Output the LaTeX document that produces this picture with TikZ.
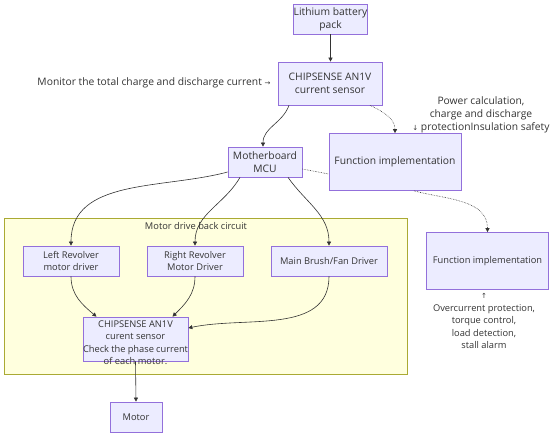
\documentclass[tikz,border=0pt]{standalone}
\usepackage{fontspec}
\setmainfont{Open Sans}
\newfontfamily\arrowfont{DejaVu Sans}
\usetikzlibrary{arrows.meta}
\definecolor{boxfill}{HTML}{ECECFF}
\definecolor{boxline}{HTML}{9370DB}
\definecolor{grpfill}{HTML}{FFFFDE}
\definecolor{grpline}{HTML}{AAAA33}
\definecolor{inkcol}{HTML}{333333}
\begin{document}
\begin{tikzpicture}[x=1pt,y=-1pt,
        font=\fontsize{9.3}{12.5}\selectfont,text=inkcol,
        big/.style={font=\fontsize{10.3}{13}\selectfont},
        blk/.style={draw=boxline,fill=boxfill,line width=0.7pt,align=center,inner sep=0pt},
        link/.style={draw=inkcol,line width=0.6pt,-{Triangle[length=4pt,width=4pt]}},
        dotlink/.style={link,densely dotted}]
                \useasboundingbox (0,0) rectangle (554,437);
                \draw[grpline,fill=grpfill,line width=0.7pt] (4,218) rectangle (407,374);
                \node (grp) at (196,226) {Motor drive back circuit};
                \node[blk,big,minimum width=69pt,minimum height=30pt] (bat) at (330.5,19) {Lithium battery\\pack};
                \node[blk,big,minimum width=104pt,minimum height=43pt] (sens1) at (330,83.5) {CHIPSENSE AN1V\\current sensor};
                \node[blk,big,minimum width=74pt,minimum height=30pt] (mcu) at (265,162) {Motherboard\\MCU};
                \node[blk,big,minimum width=132pt,minimum height=57pt] (fun1) at (395,162) {Function implementation};
                \node[blk,minimum width=122pt,minimum height=57pt] (fun2) at (487.5,261) {Function implementation};
                \node[blk,minimum width=96pt,minimum height=30pt] (left) at (71,261) {Left Revolver\\motor driver};
                \node[blk,minimum width=96pt,minimum height=30pt] (right) at (195,261) {Right Revolver\\Motor Driver};
                \node[blk,minimum width=116pt,minimum height=30pt] (main) at (329,261) {Main Brush/Fan Driver};
                \node[blk,inner ysep=3.5pt] (sens2) at (135.5,339) {\parbox[c][37pt][t]{105pt}{\centering CHIPSENSE AN1V\\curent sensor\\Check the phase current\\of each motor.}};
                \node[blk,minimum width=52pt,minimum height=30pt] (motor) at (136,417) {Motor};
                \node[big,anchor=east] (mon) at (274,83) {Monitor the total charge and discharge current {\arrowfont\scriptsize →}};
                \node[big,align=center] (pwr) at (481,115) {Power calculation,\\charge and discharge\\{\arrowfont\scriptsize ↓} protectionInsulation safety};
                \node[align=center] (ocp) at (484,321) {{\arrowfont\scriptsize ↑}\\Overcurrent protection,\\torque control,\\load detection,\\stall alarm};
                \draw[link] (bat.south) -- (bat.south |- sens1.north);
                \draw[link] ([xshift=-41pt]sens1.south) to[out=-110,in=90] ([xshift=-2pt]mcu.north);
                \draw[dotlink] ([xshift=40pt]sens1.south) to[out=-25,in=90] (fun1.north);
                \draw[draw=inkcol,densely dotted,line width=0.6pt] ([yshift=-7pt]mcu.east) -- ([yshift=-12pt]fun1.west);
                \draw[dotlink] ([xshift=19pt]fun1.south) to[out=-15,in=90] (fun2.north);
                \draw[link] ([yshift=-10pt]mcu.west) to[out=-165,in=90] (left.north);
                \draw[link] ([xshift=-25pt]mcu.south) to[out=-120,in=90] (right.north);
                \draw[link] ([xshift=23pt]mcu.south) to[out=-55,in=90] (main.north);
                \draw[link] (left.south) to[out=-90,in=140] ([xshift=-39pt]sens2.north);
                \draw[link] (right.south) to[out=-90,in=45] ([xshift=37pt]sens2.north);
                \draw[link] (main.south) to[out=-90,in=12] ([yshift=11pt]sens2.east);
                \draw[link] (sens2.south) -- (motor.north);
            \end{tikzpicture}
\end{document}
